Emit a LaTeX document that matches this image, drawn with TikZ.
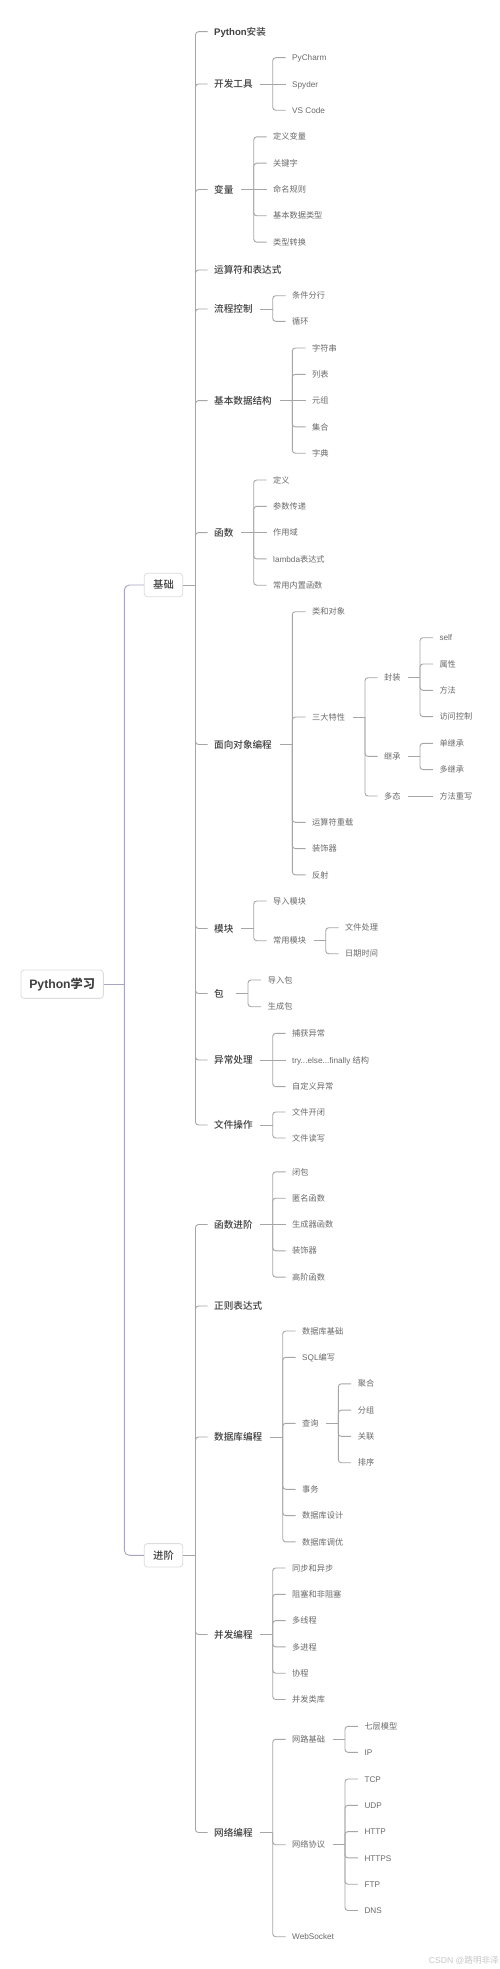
\documentclass[tikz,border=0pt]{standalone}
\usepackage{fontspec}
\setmainfont{Noto Sans CJK SC}
\newfontfamily\cjkmed{Noto Sans CJK SC Medium}
\newfontfamily\lat{Liberation Sans}
\definecolor{linec}{HTML}{A6A6A6}
\definecolor{rootc}{HTML}{A6A6C0}
\definecolor{boxc}{HTML}{DCDCDC}
\definecolor{tone}{HTML}{3F3F3F}
\definecolor{ttwo}{HTML}{6A6A6A}
\definecolor{wmc}{HTML}{C8C8C8}
\tikzset{
  txt/.style={inner sep=0pt, anchor=west},
  lvone/.style={txt, font=\fontsize{9.6}{11}\selectfont\cjkmed, text=tone, text height=7.7pt, text depth=0.5pt},
  lvtwo/.style={txt, font=\fontsize{8.2}{10}\selectfont, text=ttwo, text height=6.6pt, text depth=0.4pt},
  conn/.style={draw=linec, line width=0.9pt},
  rconn/.style={draw=rootc, line width=0.9pt},
  topbox/.style={draw=boxc, line width=0.8pt, rounded corners=3pt, fill=white, inner sep=0pt, text=tone},
}
\newcommand\mmfork[2]{\draw[conn,rounded corners=3pt] (#1) |- ([xshift=-6.5pt]#2.west);}
\newcommand\mmline[2]{\draw[conn] (#1) -- ([xshift=-6.5pt]#2.west);}
\newcommand\mmstub[2]{\draw[conn] ([xshift=7.5pt]#1.east) -- (#2);}
\begin{document}
\begin{tikzpicture}[x=1pt,y=-1pt]
\useasboundingbox (0,0) rectangle (500,1969);
\fill[white] (0,0) rectangle (500,1969);

% root and main branches
\node[topbox, minimum width=82.3pt, minimum height=28.3pt, font=\fontsize{12.2}{14}\selectfont\bfseries] (root) at (62.2,984.2) {{\lat Python}学习};
\coordinate (rootB) at (124.3,984.2);
\node[topbox, minimum width=38.4pt, minimum height=23.4pt, font=\fontsize{10.3}{12}\selectfont\cjkmed] (jc) at (163.5,585) {基础};
\node[topbox, minimum width=38.4pt, minimum height=23.4pt, font=\fontsize{10.3}{12}\selectfont\cjkmed] (jj) at (163.5,1555.3) {进阶};
\coordinate (jcB) at (195.5,585);
\coordinate (jjB) at (195.5,1555.3);
\draw[rconn] (root.east) -- (rootB);
\draw[rconn,rounded corners=5pt] (rootB) |- (jc.west);
\draw[rconn,rounded corners=5pt] (rootB) |- (jj.west);
\draw[conn] (jc.east) -- (jcB);
\draw[conn] (jj.east) -- (jjB);

% ===== 基础 =====
\node[lvone] (a1) at (214,31.7) {{\lat\bfseries Python}安装};
\node[lvone] (a2) at (214,84) {开发工具};
\node[lvone] (a3) at (214,189.5) {变量};
\node[lvone] (a4) at (214,270) {运算符和表达式};
\node[lvone] (a5) at (214,309) {流程控制};
\node[lvone] (a6) at (214,400.6) {基本数据结构};
\node[lvone] (a7) at (214,532.6) {函数};
\node[lvone] (a8) at (214,744.5) {面向对象编程};
\node[lvone] (a9) at (214,928.5) {模块};
\node[lvone] (a10) at (214,993.5) {包};
\node[lvone] (a11) at (214,1060) {异常处理};
\node[lvone] (a12) at (214,1125) {文件操作};
\foreach \n in {a1,a2,a3,a4,a5,a6,a7,a8,a9,a10,a11,a12} {\mmfork{jcB}{\n}}

% 开发工具
\coordinate (a2B) at (272.7,84);
\node[lvtwo] (a2c1) at (292,57.7) {\lat PyCharm};
\node[lvtwo] (a2c2) at (292,84) {\lat Spyder};
\node[lvtwo] (a2c3) at (292,110.3) {\lat VS Code};
\mmstub{a2}{a2B}
\mmfork{a2B}{a2c1} \mmline{a2B}{a2c2} \mmfork{a2B}{a2c3}

% 变量
\coordinate (a3B) at (253.7,189.5);
\node[lvtwo] (a3c1) at (273,136.9) {定义变量};
\node[lvtwo] (a3c2) at (273,163.2) {关键字};
\node[lvtwo] (a3c3) at (273,189.5) {命名规则};
\node[lvtwo] (a3c4) at (273,215.8) {基本数据类型};
\node[lvtwo] (a3c5) at (273,242.1) {类型转换};
\mmstub{a3}{a3B}
\mmfork{a3B}{a3c1} \mmfork{a3B}{a3c2} \mmline{a3B}{a3c3} \mmfork{a3B}{a3c4} \mmfork{a3B}{a3c5}

% 流程控制
\coordinate (a5B) at (272.7,309);
\node[lvtwo] (a5c1) at (292,295.7) {条件分行};
\node[lvtwo] (a5c2) at (292,321.3) {循环};
\mmstub{a5}{a5B}
\mmfork{a5B}{a5c1} \mmfork{a5B}{a5c2}

% 基本数据结构
\coordinate (a6B) at (292.3,400.6);
\node[lvtwo] (a6c1) at (312,348) {字符串};
\node[lvtwo] (a6c2) at (312,374.3) {列表};
\node[lvtwo] (a6c3) at (312,400.6) {元组};
\node[lvtwo] (a6c4) at (312,426.9) {集合};
\node[lvtwo] (a6c5) at (312,453.2) {字典};
\mmstub{a6}{a6B}
\mmfork{a6B}{a6c1} \mmfork{a6B}{a6c2} \mmline{a6B}{a6c3} \mmfork{a6B}{a6c4} \mmfork{a6B}{a6c5}

% 函数
\coordinate (a7B) at (253.7,532.6);
\node[lvtwo] (a7c1) at (273,480) {定义};
\node[lvtwo] (a7c2) at (273,506.3) {参数传递};
\node[lvtwo] (a7c3) at (273,532.6) {作用域};
\node[lvtwo] (a7c4) at (273,558.9) {{\lat lambda}表达式};
\node[lvtwo] (a7c5) at (273,585.2) {常用内置函数};
\mmstub{a7}{a7B}
\mmfork{a7B}{a7c1} \mmfork{a7B}{a7c2} \mmline{a7B}{a7c3} \mmfork{a7B}{a7c4} \mmfork{a7B}{a7c5}

% 面向对象编程
\coordinate (a8B) at (292.3,744.5);
\node[lvtwo] (a8c1) at (312,611.7) {类和对象};
\node[lvtwo] (a8c2) at (312,717) {三大特性};
\node[lvtwo] (a8c3) at (312,822.3) {运算符重载};
\node[lvtwo] (a8c4) at (312,848.6) {装饰器};
\node[lvtwo] (a8c5) at (312,874.9) {反射};
\mmstub{a8}{a8B}
\mmfork{a8B}{a8c1} \mmfork{a8B}{a8c2} \mmfork{a8B}{a8c3} \mmfork{a8B}{a8c4} \mmfork{a8B}{a8c5}

% 三大特性
\coordinate (sdB) at (365,717);
\node[lvtwo] (fz) at (384,677.7) {封装};
\node[lvtwo] (jic) at (384,756.4) {继承};
\node[lvtwo] (dt) at (384,796) {多态};
\mmstub{a8c2}{sdB}
\mmfork{sdB}{fz} \mmfork{sdB}{jic} \mmfork{sdB}{dt}

\coordinate (fzB) at (420,677.7);
\node[lvtwo] (fz1) at (439.3,637.7) {\lat self};
\node[lvtwo] (fz2) at (439.3,664) {属性};
\node[lvtwo] (fz3) at (439.3,690.3) {方法};
\node[lvtwo] (fz4) at (439.3,716.6) {访问控制};
\mmstub{fz}{fzB}
\mmfork{fzB}{fz1} \mmfork{fzB}{fz2} \mmfork{fzB}{fz3} \mmfork{fzB}{fz4}

\coordinate (jiB) at (420,756.4);
\node[lvtwo] (ji1) at (439.3,743.3) {单继承};
\node[lvtwo] (ji2) at (439.3,769.6) {多继承};
\mmstub{jic}{jiB}
\mmfork{jiB}{ji1} \mmfork{jiB}{ji2}

\node[lvtwo] (dt1) at (439.3,796) {方法重写};
\draw[conn] ([xshift=7.5pt]dt.east) -- ([xshift=-6.5pt]dt1.west);

% 模块
\coordinate (a9B) at (253.7,928.5);
\node[lvtwo] (a9c1) at (273,901) {导入模块};
\node[lvtwo] (a9c2) at (273,940.7) {常用模块};
\mmstub{a9}{a9B}
\mmfork{a9B}{a9c1} \mmfork{a9B}{a9c2}
\coordinate (cyB) at (325.7,940.7);
\node[lvtwo] (cy1) at (345,927.7) {文件处理};
\node[lvtwo] (cy2) at (345,953.7) {日期时间};
\mmstub{a9c2}{cyB}
\mmfork{cyB}{cy1} \mmfork{cyB}{cy2}

% 包
\coordinate (a10B) at (248,993.5);
\node[lvtwo] (a10c1) at (267.7,980) {导入包};
\node[lvtwo] (a10c2) at (267.7,1006.7) {生成包};
\draw[conn] ([xshift=11.5pt]a10.east) -- (a10B);
\mmfork{a10B}{a10c1} \mmfork{a10B}{a10c2}

% 异常处理
\coordinate (a11B) at (272.7,1060);
\node[lvtwo] (a11c1) at (292,1033.4) {捕获异常};
\node[lvtwo] (a11c2) at (292,1060) {{\lat try...else...finally }结构};
\node[lvtwo] (a11c3) at (292,1086.6) {自定义异常};
\mmstub{a11}{a11B}
\mmfork{a11B}{a11c1} \mmline{a11B}{a11c2} \mmfork{a11B}{a11c3}

% 文件操作
\coordinate (a12B) at (272.7,1125);
\node[lvtwo] (a12c1) at (292,1112) {文件开闭};
\node[lvtwo] (a12c2) at (292,1138) {文件读写};
\mmstub{a12}{a12B}
\mmfork{a12B}{a12c1} \mmfork{a12B}{a12c2}

% ===== 进阶 =====
\node[lvone] (b1) at (214,1224.5) {函数进阶};
\node[lvone] (b2) at (214,1306) {正则表达式};
\node[lvone] (b3) at (214,1437) {数据库编程};
\node[lvone] (b4) at (214,1634.5) {并发编程};
\node[lvone] (b5) at (214,1832.5) {网络编程};
\foreach \n in {b1,b2,b3,b4,b5} {\mmfork{jjB}{\n}}

% 函数进阶
\coordinate (b1B) at (272.7,1224.5);
\node[lvtwo] (b1c1) at (292,1171.9) {闭包};
\node[lvtwo] (b1c2) at (292,1198.2) {匿名函数};
\node[lvtwo] (b1c3) at (292,1224.5) {生成器函数};
\node[lvtwo] (b1c4) at (292,1250.8) {装饰器};
\node[lvtwo] (b1c5) at (292,1277.1) {高阶函数};
\mmstub{b1}{b1B}
\mmfork{b1B}{b1c1} \mmfork{b1B}{b1c2} \mmline{b1B}{b1c3} \mmfork{b1B}{b1c4} \mmfork{b1B}{b1c5}

% 数据库编程
\coordinate (b3B) at (282.7,1437);
\node[lvtwo] (b3c1) at (302,1331) {数据库基础};
\node[lvtwo] (b3c2) at (302,1357.3) {{\lat SQL}编写};
\node[lvtwo] (b3c3) at (302,1423.3) {查询};
\node[lvtwo] (b3c4) at (302,1489.3) {事务};
\node[lvtwo] (b3c5) at (302,1515.6) {数据库设计};
\node[lvtwo] (b3c6) at (302,1541.9) {数据库调优};
\mmstub{b3}{b3B}
\mmfork{b3B}{b3c1} \mmfork{b3B}{b3c2} \mmfork{b3B}{b3c3} \mmfork{b3B}{b3c4} \mmfork{b3B}{b3c5} \mmfork{b3B}{b3c6}
\coordinate (cxB) at (338.3,1423.3);
\node[lvtwo] (cx1) at (357.7,1383.8) {聚合};
\node[lvtwo] (cx2) at (357.7,1410.1) {分组};
\node[lvtwo] (cx3) at (357.7,1436.4) {关联};
\node[lvtwo] (cx4) at (357.7,1462.7) {排序};
\mmstub{b3c3}{cxB}
\mmfork{cxB}{cx1} \mmfork{cxB}{cx2} \mmfork{cxB}{cx3} \mmfork{cxB}{cx4}

% 并发编程
\coordinate (b4B) at (272.7,1634.5);
\node[lvtwo] (b4c1) at (292,1568) {同步和异步};
\node[lvtwo] (b4c2) at (292,1594.3) {阻塞和非阻塞};
\node[lvtwo] (b4c3) at (292,1620.6) {多线程};
\node[lvtwo] (b4c4) at (292,1646.9) {多进程};
\node[lvtwo] (b4c5) at (292,1673.2) {协程};
\node[lvtwo] (b4c6) at (292,1699.5) {并发类库};
\mmstub{b4}{b4B}
\mmfork{b4B}{b4c1} \mmfork{b4B}{b4c2} \mmfork{b4B}{b4c3} \mmfork{b4B}{b4c4} \mmfork{b4B}{b4c5} \mmfork{b4B}{b4c6}

% 网络编程
\coordinate (b5B) at (272.7,1832.5);
\node[lvtwo] (b5c1) at (292,1739.3) {网路基础};
\node[lvtwo] (b5c2) at (292,1844.7) {网络协议};
\node[lvtwo] (b5c3) at (292,1936.7) {\lat WebSocket};
\mmstub{b5}{b5B}
\mmfork{b5B}{b5c1} \mmfork{b5B}{b5c2} \mmfork{b5B}{b5c3}
\coordinate (wjB) at (345,1739.3);
\node[lvtwo] (wj1) at (364.3,1726.3) {七层模型};
\node[lvtwo] (wj2) at (364.3,1752.3) {\lat IP};
\mmstub{b5c1}{wjB}
\mmfork{wjB}{wj1} \mmfork{wjB}{wj2}
\coordinate (wxB) at (345,1844.7);
\node[lvtwo] (wx1) at (364.3,1779) {\lat TCP};
\node[lvtwo] (wx2) at (364.3,1805.3) {\lat UDP};
\node[lvtwo] (wx3) at (364.3,1831.6) {\lat HTTP};
\node[lvtwo] (wx4) at (364.3,1857.9) {\lat HTTPS};
\node[lvtwo] (wx5) at (364.3,1884.2) {\lat FTP};
\node[lvtwo] (wx6) at (364.3,1910.5) {\lat DNS};
\mmstub{b5c2}{wxB}
\mmfork{wxB}{wx1} \mmfork{wxB}{wx2} \mmfork{wxB}{wx3} \mmfork{wxB}{wx4} \mmfork{wxB}{wx5} \mmfork{wxB}{wx6}

% watermark
\node[inner sep=0pt, anchor=east, text=wmc, font=\fontsize{8.6}{10}\selectfont] (wm) at (499,1960.7) {{\lat CSDN @}路明非泽};
\end{tikzpicture}
\end{document}
